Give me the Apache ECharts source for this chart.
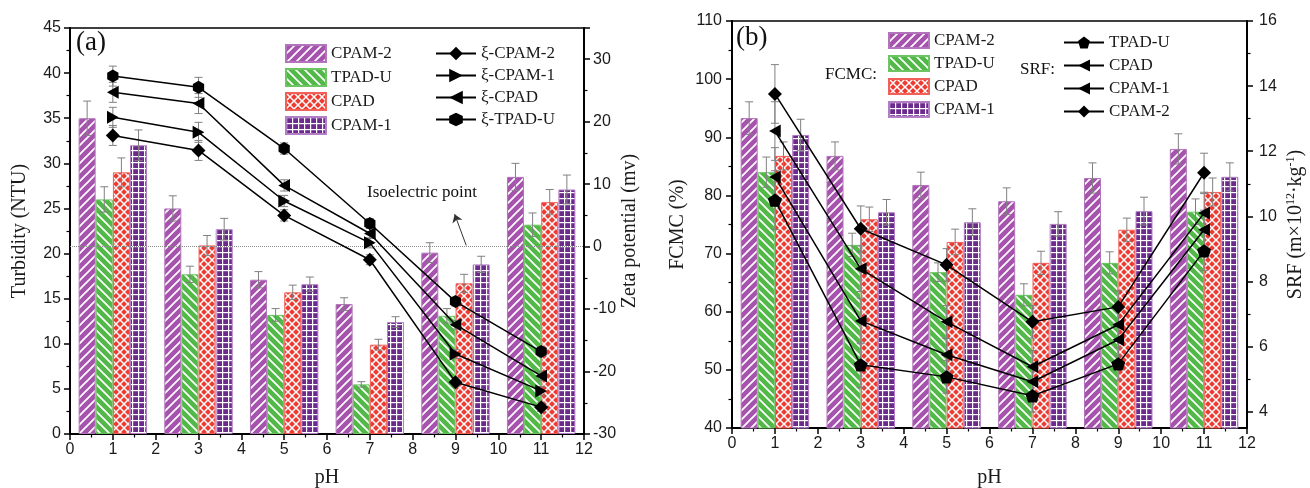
<!DOCTYPE html>
<html><head><meta charset="utf-8">
<script src="https://cdn.jsdelivr.net/npm/echarts@6/dist/echarts.min.js"></script>
<style>html,body{margin:0;padding:0;background:#fff}#c{width:1310px;height:488px}</style>
</head><body><div id="c"></div>
<script>
// ---------- data ----------
const pH = [1, 3, 5, 7, 9, 11];
const barNames = ['CPAM-2', 'TPAD-U', 'CPAD', 'CPAM-1'];

// panel (a) turbidity (NTU) and error
const turbCPAM2 = [35.0, 25.0, 17.1, 14.4, 20.1, 28.5];
const turbTPADU = [26.0, 17.7, 13.2, 5.5, 13.1, 23.2];
const turbCPAD  = [29.0, 20.9, 15.7, 9.9, 16.7, 25.7];
const turbCPAM1 = [32.0, 22.7, 16.6, 12.4, 18.8, 27.1];
const turbErrCPAM2 = [1.9, 1.4, 0.9, 0.7, 1.1, 1.5];
const turbErrTPADU = [1.4, 0.9, 0.7, 0.3, 0.8, 1.3];
const turbErrCPAD  = [1.6, 1.1, 0.8, 0.6, 1.0, 1.4];
const turbErrCPAM1 = [1.7, 1.2, 0.8, 0.6, 0.9, 1.6];

// panel (a) zeta potential (mV)
const zetaNames = ['ξ-CPAM-2', 'ξ-CPAM-1', 'ξ-CPAD', 'ξ-TPAD-U'];
const zetaCPAM2 = [17.8, 15.4, 5.0, -2.1, -21.7, -25.7];
const zetaCPAM1 = [20.7, 18.3, 7.3, 0.6, -17.2, -23.1];
const zetaCPAD  = [24.7, 22.9, 9.8, 2.1, -12.5, -20.7];
const zetaTPADU = [27.3, 25.5, 15.7, 3.7, -8.8, -16.8];
const zetaErr   = [1.6, 1.6, 0.9, 0.8, 0.7, 0.7];

// panel (b) FCMC (%) and error
const fcmcCPAM2 = [93.3, 86.8, 81.8, 79.0, 83.0, 88.0];
const fcmcTPADU = [84.0, 71.5, 66.8, 62.9, 68.4, 77.2];
const fcmcCPAD  = [86.8, 75.9, 72.0, 68.4, 74.1, 80.6];
const fcmcCPAM1 = [90.4, 77.1, 75.4, 75.1, 77.3, 83.2];
const fcmcErrCPAM2 = [2.8, 2.4, 2.2, 2.3, 2.6, 2.6];
const fcmcErrTPADU = [2.6, 2.0, 1.6, 1.9, 1.9, 2.2];
const fcmcErrCPAD  = [2.4, 2.1, 2.2, 2.0, 2.0, 2.4];
const fcmcErrCPAM1 = [2.7, 2.2, 2.3, 2.1, 2.4, 2.4];

// panel (b) SRF (m x 10^12 / kg)
const srfNames = ['TPAD-U', 'CPAD', 'CPAM-1', 'CPAM-2'];
const srfTPADU = [10.5, 5.44, 5.07, 4.49, 5.47, 8.94];
const srfCPAD  = [11.21, 6.79, 5.75, 4.92, 6.21, 9.59];
const srfCPAM1 = [12.62, 8.39, 6.76, 5.38, 6.67, 10.1];
const srfCPAM2 = [13.76, 9.62, 8.51, 6.76, 7.22, 11.34];
const srfErr   = [0.9, 0.7, 0.5, 0.5, 0.5, 0.6];

// axis ticks
const srfLabels = [4, 6, 8, 10, 12, 14, 16];
const srfMinor  = [5, 7, 9, 11, 13, 15];

// ---------- styles ----------
const SANS = '"Liberation Sans", Arial, sans-serif';
const SERIF = '"Liberation Serif", "Times New Roman", serif';
const barOffset = [-0.6, -0.2, 0.2, 0.6];

function pat(bg, draw, w, h) {
  const c = document.createElement('canvas');
  c.width = w; c.height = h;
  const g = c.getContext('2d');
  g.fillStyle = bg; g.fillRect(0, 0, w, h);
  g.strokeStyle = '#ffffff'; g.fillStyle = '#ffffff';
  draw(g, w, h);
  return { image: c, repeat: 'repeat' };
}
function seg(g, a, b, c, d) { g.beginPath(); g.moveTo(a, b); g.lineTo(c, d); g.stroke(); }
const patCPAM2 = pat('#a653ad', (g, w, h) => { g.lineWidth = 1.7; seg(g, -1, h + 1, w + 1, -1); seg(g, -2, 2, 2, -2); seg(g, w - 2, h + 2, w + 2, h - 2); }, 9, 9);
const patTPADU = pat('#52b848', (g, w, h) => { g.lineWidth = 1.7; seg(g, -1, -1, w + 1, h + 1); seg(g, w - 2, -2, w + 2, 2); seg(g, -2, h - 2, 2, h + 2); }, 9, 9);
const patCPAD = pat('#ee3b32', (g, w, h) => { g.lineWidth = 1.5; seg(g, -1, h + 1, w + 1, -1); seg(g, -1, -1, w + 1, h + 1); }, 8, 8);
const patCPAM1 = pat('#6b2a8c', (g, w, h) => { g.lineWidth = 1.4; seg(g, 0.5, 0, 0.5, h); seg(g, 0, 0.5, w, 0.5); }, 6, 6);
const barPatterns = [patCPAM2, patTPADU, patCPAD, patCPAM1];
const barBorders = ['#b274ba', '#6cc462', '#f06058', '#b27fc4'];

const HEX = 'path://M0,-1 L0.866,-0.5 L0.866,0.5 L0,1 L-0.866,0.5 L-0.866,-0.5 Z';
const PENT = 'path://M0,-1 L0.951,-0.309 L0.588,0.809 L-0.588,0.809 L-0.951,-0.309 Z';
const LTRI = 'path://M0,5 L9,0 L9,10 Z';
const RTRI = 'path://M9,5 L0,0 L0,10 Z';
const DIAM = 'path://M5,0 L10,5 L5,10 L0,5 Z';

function errRender(params, api) {
  const x = api.value(0);
  const lo = api.coord([x, api.value(1)]);
  const hi = api.coord([x, api.value(2)]);
  const cw = 4;
  const style = { stroke: '#808080', lineWidth: 1 };
  return { type: 'group', children: [
    { type: 'line', shape: { x1: lo[0], y1: lo[1], x2: hi[0], y2: hi[1] }, style },
    { type: 'line', shape: { x1: hi[0] - cw, y1: hi[1], x2: hi[0] + cw, y2: hi[1] }, style },
    { type: 'line', shape: { x1: lo[0] - cw, y1: lo[1], x2: lo[0] + cw, y2: lo[1] }, style }
  ]};
}
function errSeries(xs, vals, errs, xi, yi, z) {
  return { type: 'custom', xAxisIndex: xi, yAxisIndex: yi, z: z, silent: true,
    renderItem: errRender, encode: { x: 0, y: [1, 2] },
    data: xs.map((x, i) => [x, vals[i] - errs[i], vals[i] + errs[i]]) };
}
function barSeries(name, k, vals, xi, yi) {
  return { type: 'bar', name: name, xAxisIndex: xi, yAxisIndex: yi, z: 2,
    barWidth: 17, barGap: '-100%',
    itemStyle: { color: barPatterns[k], borderColor: barBorders[k], borderWidth: 1 },
    data: pH.map((p, i) => [p + barOffset[k], vals[i]]) };
}
function lineSeries(name, sym, size, vals, xi, yi) {
  return { type: 'line', name: name, xAxisIndex: xi, yAxisIndex: yi, z: 5,
    symbol: sym, symbolSize: size, symbolKeepAspect: true,
    lineStyle: { color: '#000', width: 1.5 }, itemStyle: { color: '#000' },
    data: pH.map((p, i) => [p, vals[i]]) };
}

const axisCommon = {
  axisLine: { show: true, onZero: false, lineStyle: { color: '#000', width: 2 } },
  axisTick: { show: true, inside: false, length: 6, lineStyle: { color: '#000', width: 1.5 } },
  minorTick: { show: true, splitNumber: 2, length: 3.5, lineStyle: { color: '#000', width: 1.2 } },
  splitLine: { show: false }, minorSplitLine: { show: false },
  axisLabel: { color: '#1a1a1a', fontFamily: SANS, fontSize: 16 },
  nameTextStyle: { color: '#1a1a1a', fontFamily: SERIF, fontSize: 20 }
};
function ax(extra) { return echarts.util.merge(echarts.util.clone(axisCommon), extra, true); }

const series = [];
// panel a
const aVals = [turbCPAM2, turbTPADU, turbCPAD, turbCPAM1];
const aErrs = [turbErrCPAM2, turbErrTPADU, turbErrCPAD, turbErrCPAM1];
barNames.forEach((n, k) => series.push(barSeries(n, k, aVals[k], 0, 0)));
barNames.forEach((n, k) => series.push(errSeries(pH.map(p => p + barOffset[k]), aVals[k], aErrs[k], 0, 0, 3)));
const zVals = [zetaCPAM2, zetaCPAM1, zetaCPAD, zetaTPADU];
const zSyms = [DIAM, RTRI, LTRI, HEX];
const zSize = [14, 13, 13, 13];
zetaNames.forEach((n, k) => series.push(errSeries(pH, zVals[k], zetaErr, 0, 1, 4)));
zetaNames.forEach((n, k) => series.push(lineSeries(n, zSyms[k], zSize[k], zVals[k], 0, 1)));
// isoelectric line (zeta = 0)
series[series.length - 1].markLine = {
  silent: true, symbol: 'none', label: { show: false },
  lineStyle: { type: 'dotted', color: '#8a8a8a', width: 1 },
  data: [ { yAxis: 0 } ]
};
// annotation arrow
series[series.length - 2].markLine = {
  silent: true, symbol: ['none', 'arrow'], symbolSize: 8, label: { show: false },
  lineStyle: { type: 'solid', color: '#333', width: 1 },
  data: [ [ { coord: [9.25, 0.2] }, { coord: [8.98, 5.2] } ] ]
};
// panel b
const bVals = [fcmcCPAM2, fcmcTPADU, fcmcCPAD, fcmcCPAM1];
const bErrs = [fcmcErrCPAM2, fcmcErrTPADU, fcmcErrCPAD, fcmcErrCPAM1];
barNames.forEach((n, k) => series.push(barSeries(n, k, bVals[k], 1, 2)));
barNames.forEach((n, k) => series.push(errSeries(pH.map(p => p + barOffset[k]), bVals[k], bErrs[k], 1, 2, 3)));
const sVals = [srfTPADU, srfCPAD, srfCPAM1, srfCPAM2];
const sSyms = [PENT, LTRI, LTRI, DIAM];
const sSize = [14, 13, 13, 14];
srfNames.forEach((n, k) => series.push(errSeries(pH, sVals[k], srfErr, 1, 3, 4)));
srfNames.forEach((n, k) => series.push(lineSeries('SRF ' + n, sSyms[k], sSize[k], sVals[k], 1, 3)));

const legendText = { color: '#1a1a1a', fontFamily: SERIF, fontSize: 17 };
const barLegendData = barNames.map(n => ({ name: n, icon: 'rect' }));
const option = {
  animation: false,
  backgroundColor: '#fff',
  grid: [
    { left: 70, right: 726, top: 28, bottom: 54, outerBoundsMode: 'none', containLabel: false, show: true, borderColor: '#000', borderWidth: 1.5, backgroundColor: 'transparent' },
    { left: 732, right: 63, top: 21, bottom: 60, outerBoundsMode: 'none', containLabel: false, show: true, borderColor: '#000', borderWidth: 1.5, backgroundColor: 'transparent' }
  ],
  xAxis: [
    ax({ gridIndex: 0, type: 'value', min: 0, max: 12, interval: 1, name: 'pH', nameLocation: 'middle', nameGap: 34, axisLabel: { margin: 8 } }),
    ax({ gridIndex: 1, type: 'value', min: 0, max: 12, interval: 1, name: 'pH', nameLocation: 'middle', nameGap: 40, axisLabel: { margin: 8 } })
  ],
  yAxis: [
    ax({ gridIndex: 0, type: 'value', min: 0, max: 45, interval: 5, position: 'left', name: 'Turbidity (NTU)', nameLocation: 'middle', nameRotate: 90, nameGap: 40, axisLabel: { margin: 9 } }),
    ax({ gridIndex: 0, type: 'value', min: -30, max: 35, interval: 10, position: 'right', name: 'Zeta potential (mv)', nameLocation: 'middle', nameRotate: 90, nameGap: 36, axisLabel: { margin: 9, showMaxLabel: false } }),
    ax({ gridIndex: 1, type: 'value', min: 40, max: 110, interval: 10, position: 'left', name: 'FCMC (%)', nameLocation: 'middle', nameRotate: 90, nameGap: 44, axisLabel: { margin: 10 } }),
    ax({ gridIndex: 1, type: 'value', min: 3.5, max: 16, position: 'right',
      name: 'SRF (m×10{sup|12}·kg{sup|-1})', nameLocation: 'middle', nameRotate: 90, nameGap: 38,
      nameTextStyle: { rich: { sup: { fontFamily: SERIF, fontSize: 12, padding: [0, 0, 9, 0] } } },
      axisLabel: { margin: 12, customValues: srfLabels }, axisTick: { customValues: srfLabels }, minorTick: { show: false } }),
    ax({ gridIndex: 1, type: 'value', min: 3.5, max: 16, position: 'right',
      axisLine: { show: false }, axisLabel: { show: false }, axisTick: { customValues: srfMinor, length: 3.5, lineStyle: { width: 1.2 } }, minorTick: { show: false } })
  ],
  legend: [
    { data: barLegendData, orient: 'vertical', left: 285, top: 44, padding: 0, itemWidth: 40, itemHeight: 17, itemGap: 5, textStyle: legendText, selectedMode: false },
    { data: zetaNames, orient: 'vertical', left: 435, top: 45, padding: 0, itemWidth: 40, itemHeight: 17, itemGap: 5, textStyle: legendText, selectedMode: false },
    { data: barLegendData, orient: 'vertical', left: 888, top: 32, padding: 0, itemWidth: 40, itemHeight: 15, itemGap: 6, textStyle: legendText, selectedMode: false },
    { data: srfNames.map(n => 'SRF ' + n), orient: 'vertical', left: 1063, top: 34, padding: 0, itemWidth: 40, itemHeight: 15, itemGap: 6, textStyle: legendText, selectedMode: false,
      formatter: (n) => n.replace('SRF ', '') }
  ],
  graphic: [
    { type: 'text', left: 76, top: 29, style: { text: '(a)', font: '27px ' + SERIF, fill: '#111' } },
    { type: 'text', left: 736, top: 24, style: { text: '(b)', font: '27px ' + SERIF, fill: '#111' } },
    { type: 'text', left: 367, top: 184, style: { text: 'Isoelectric point', font: '17px ' + SERIF, fill: '#111' } },
    { type: 'text', left: 825, top: 66, style: { text: 'FCMC:', font: '17px ' + SERIF, fill: '#111' } },
    { type: 'text', left: 1020, top: 61, style: { text: 'SRF:', font: '17px ' + SERIF, fill: '#111' } }
  ],
  series: series
};
const chart = echarts.init(document.getElementById('c'), null, { renderer: 'canvas' });
chart.setOption(option);
</script>
</body></html>
